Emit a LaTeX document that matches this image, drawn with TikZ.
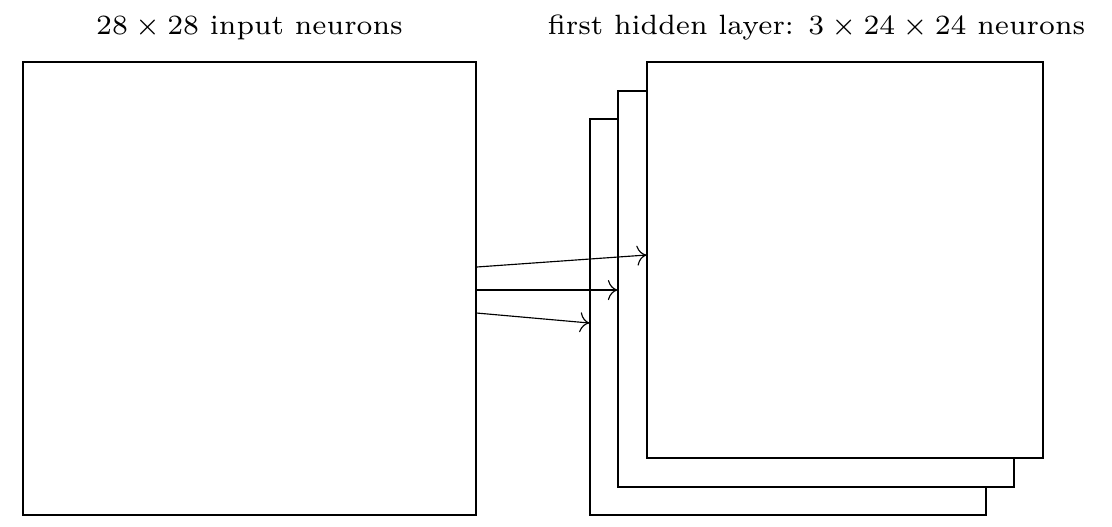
\documentclass[tikz,border=0pt]{standalone}
\usetikzlibrary{calc,arrows.meta}
\begin{document}
\begin{tikzpicture}[x=0.35pt,y=-0.35pt,
  bigbox/.style={draw, fill=white, inner sep=0pt, minimum width=158.55pt, minimum height=158.55pt},
  fmap/.style={draw, fill=white, inner sep=0pt, minimum width=138.6pt, minimum height=138.6pt},
  lbl/.style={inner sep=0pt, anchor=base},
  conn/.style={-{To[scale=1.35]}}]
\useasboundingbox (0,0) rectangle (1112,526);
\node[bigbox] (in) at (249.5,288.5) {};
\node[fmap] (back) at (788,317) {};
\node[fmap] (mid) at (816,289) {};
\node[fmap] (front) at (845,260) {};
\node[lbl] (t1) at (249.5,34) {\scalebox{1.395}{\fontsize{7}{8}\selectfont $28\times 28$ input neurons}};
\node[lbl] (t2) at (816.5,34) {\scalebox{1.395}{\fontsize{7}{8}\selectfont first hidden layer: $3\times 24\times 24$ neurons}};
\draw[conn] ($(in.east)+(0,-21.5)$) -- ($(front.west)+(0,-5)$);
\draw[conn] ($(in.east)+(0,1.5)$) -- ($(mid.west)+(0,1)$);
\draw[conn] ($(in.east)+(0,24.5)$) -- ($(back.west)+(0,6)$);
\end{tikzpicture}
\end{document}
